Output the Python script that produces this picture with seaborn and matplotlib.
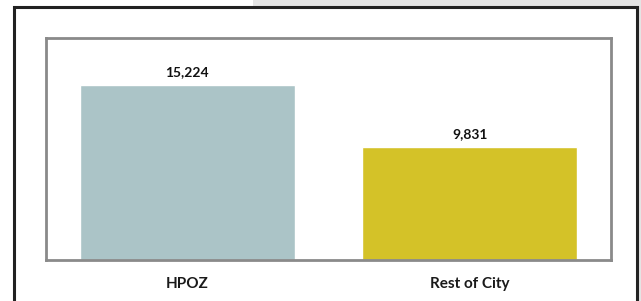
import matplotlib
matplotlib.use("Agg")
import matplotlib.pyplot as plt
import seaborn as sns
import pandas as pd
from matplotlib.patches import Rectangle

# data
categories = ["HPOZ", "Rest of City"]
values = [15224, 9831]
bar_colors = ["#abc4c7", "#d4c228"]

sns.set_style("white")
plt.rcParams["font.family"] = ["Lato", "DejaVu Sans"]

fig = plt.figure(figsize=(6.41, 3.01), dpi=100)
fig.patch.set_facecolor("white")

# light grey strip behind the top of the frame
fig.patches.append(Rectangle((253 / 641, 1 - 7 / 301), 1, 0.05, transform=fig.transFigure,
                             facecolor="#e4e4e4", edgecolor="none", zorder=0))
fig.patches.append(Rectangle((637 / 641, 0), 0.05, 1, transform=fig.transFigure,
                             facecolor="#e4e4e4", edgecolor="none", zorder=0))
# outer black frame (bottom edge runs off the image)
fig.patches.append(Rectangle((14 / 641, -0.1), (637 - 14) / 641, 1.1 - 7 / 301,
                             transform=fig.transFigure, facecolor="none",
                             edgecolor="#222222", linewidth=2.2, zorder=1))

ax = fig.add_axes([46 / 641, 1 - 260 / 301, (611 - 46) / 641, (260 - 38) / 301])
df = pd.DataFrame({"area": categories, "count": values})
sns.barplot(data=df, x="area", y="count", hue="area", palette=bar_colors,
            width=0.76, saturation=1, legend=False, ax=ax)

ax.set_xlim(-0.5, 1.5)
ax.set_ylim(0, 19300)
ax.set_yticks([])
ax.set_xlabel("")
ax.set_ylabel("")
ax.tick_params(axis="x", length=0, pad=12)
for lab in ax.get_xticklabels():
    lab.set_fontsize(11)
    lab.set_fontweight("bold")
    lab.set_color("#1a1a1a")
for sp in ax.spines.values():
    sp.set_color("#8a8a8a")
    sp.set_linewidth(2)

for i, v in enumerate(values):
    ax.annotate(f"{v:,}", (i, v), xytext=(0, 5), textcoords="offset points",
                ha="center", va="bottom", fontsize=10, fontweight="bold", color="#111111")

fig.savefig("out.png", dpi=100)
